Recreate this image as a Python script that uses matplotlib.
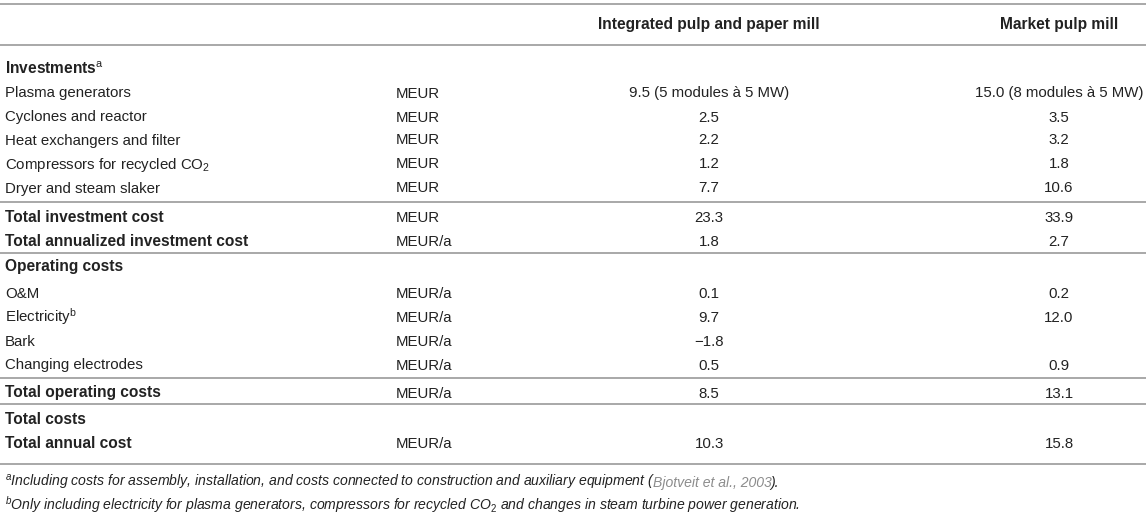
import matplotlib
matplotlib.use("Agg")
import matplotlib.pyplot as plt

plt.rcParams['font.family'] = ['Liberation Sans', 'DejaVu Sans']
plt.rcParams['mathtext.fontset'] = 'custom'
plt.rcParams['mathtext.rm'] = 'Liberation Sans'
plt.rcParams['mathtext.it'] = 'Liberation Sans:italic'
plt.rcParams['mathtext.bf'] = 'Liberation Sans:bold'

# table content
col_headers = ['Integrated pulp and paper mill', 'Market pulp mill']
row_labels = ['Investments$^{\\mathrm{a}}$', 'Plasma generators', 'Cyclones and reactor',
              'Heat exchangers and filter', 'Compressors for recycled CO$_{\\mathrm{2}}$',
              'Dryer and steam slaker', 'Total investment cost',
              'Total annualized investment cost', 'Operating costs', 'O&M',
              'Electricity$^{\\mathrm{b}}$', 'Bark', 'Changing electrodes',
              'Total operating costs', 'Total costs', 'Total annual cost']
units = ['', 'MEUR', 'MEUR', 'MEUR', 'MEUR', 'MEUR', 'MEUR', 'MEUR/a', '',
         'MEUR/a', 'MEUR/a', 'MEUR/a', 'MEUR/a', 'MEUR/a', '', 'MEUR/a']
integrated = ['', '9.5 (5 modules à 5 MW)', '2.5', '2.2', '1.2', '7.7', '23.3', '1.8', '',
              '0.1', '9.7', '\u22121.8', '0.5', '8.5', '', '10.3']
market = ['', '15.0 (8 modules à 5 MW)', '3.5', '3.2', '1.8', '10.6', '33.9', '2.7', '',
          '0.2', '12.0', '', '0.9', '13.1', '', '15.8']
bold_rows = [0, 6, 7, 8, 13, 14, 15]

# layout in pixels (row centres; text is placed on a baseline below them)
row_y = [68, 92, 116, 139, 163, 187, 216, 240, 266, 292, 316, 340, 364, 392, 419, 443]
rule_y = [4, 45, 202, 253, 378, 404, 464]
x_label, x_unit, x_int, x_mkt = 5, 396, 709, 1059
base = 5.5
txt = '#222222'
rule = '#a8a8a8'
fs = 10.8
fs_bold = 11.2

fig = plt.figure(figsize=(11.46, 5.14), dpi=100)
ax = fig.add_axes([0, 0, 1, 1])
ax.set_xlim(0, 1146)
ax.set_ylim(514, 0)
ax.axis('off')

for y in rule_y:
    ax.plot([0, 1146], [y, y], color=rule, lw=1.4, solid_capstyle='butt')

for name, xc in zip(col_headers, [x_int, x_mkt]):
    ax.text(xc, 24 + base, name, ha='center', va='baseline', fontsize=fs_bold,
            fontweight='bold', color=txt)

for i, y in enumerate(row_y):
    b = i in bold_rows
    ax.text(x_label, y + base, row_labels[i], ha='left', va='baseline',
            fontsize=fs_bold if b else fs, fontweight='bold' if b else 'normal', color=txt)
    ax.text(x_unit, y + base, units[i], ha='left', va='baseline', fontsize=fs, color=txt)
    ax.text(x_int, y + base, integrated[i], ha='center', va='baseline', fontsize=fs, color=txt)
    ax.text(x_mkt, y + base, market[i], ha='center', va='baseline', fontsize=fs, color=txt)

# footnotes
fn_fs = 10.1
fig.canvas.draw()
renderer = fig.canvas.get_renderer()
inv = ax.transData.inverted()

parts_a = [('$^{a}$Including costs for assembly, installation, and costs connected to '
            'construction and auxiliary equipment (', txt),
           ('Bjotveit et al., 2003', '#8c8c8c'),
           (').', txt)]
x = x_label
for s, c in parts_a:
    t = ax.text(x, 482 + 5, s, ha='left', va='baseline', fontsize=fn_fs,
                style='italic', color=c)
    bb = t.get_window_extent(renderer)
    x = inv.transform((bb.x1, bb.y0))[0] - 2

ax.text(x_label, 505 + 5, '$^{b}$Only including electricity for plasma generators, compressors '
        'for recycled CO$_{2}$ and changes in steam turbine power generation.',
        ha='left', va='baseline', fontsize=fn_fs, style='italic', color=txt)

fig.savefig('out.png', dpi=100)
